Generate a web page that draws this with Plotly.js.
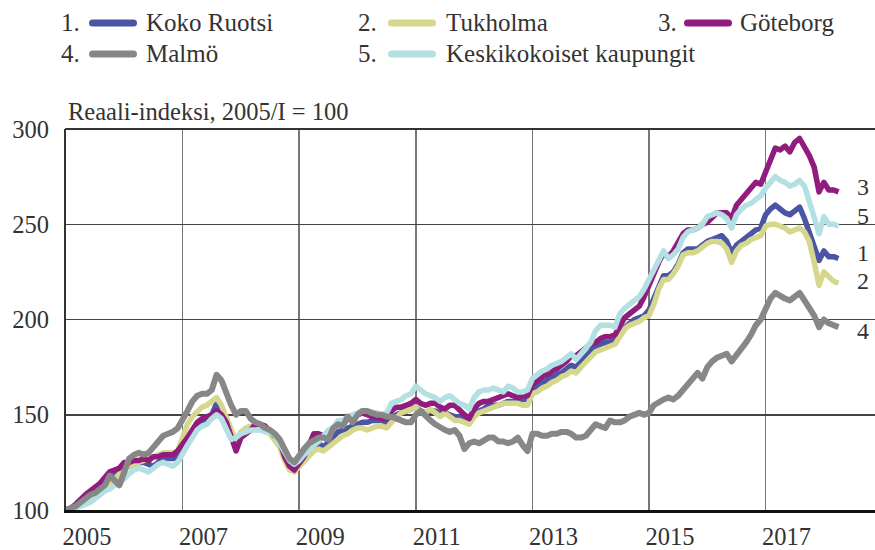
<!DOCTYPE html>
<html><head><meta charset="utf-8">
<script src="https://cdn.plot.ly/plotly-3.0.1.min.js"></script>
<style>
html,body{margin:0;padding:0;background:#fff;}
#chart{width:875px;height:550px;}
.js-line{stroke-linejoin:round !important;}
.shapelayer path{stroke-linecap:round;}
</style></head>
<body><div id="chart"></div>
<script>
// Monthly real price index, 2005/I = 100 (Jan 2005 .. Apr 2018)
const startYear = 2005;
const seriesNames = ['Koko Ruotsi', 'Tukholma', 'Göteborg', 'Malmö', 'Keskikokoiset kaupungit'];
const endLabels = ['1', '2', '3', '4', '5'];
const endLabelY = [235, 220, 269.5, 194, 254.5];

const kokoRuotsi = [
  100,101,102,104,106,108,110,112,114,116,118,120,
  122,123,124,125,125,124,123,125,127,127,127,128,
  131,135,140,144,146,148,150,156,150,146,140,134,
  138,141,143,144,143,142,141,138,134,129,124,122,
  124,128,132,134,135,133,136,139,141,142,143,144,
  145,146,146,147,147,147,146,148,150,151,152,153,
  154,152,151,152,152,151,151,150,149,149,148,147,
  150,152,153,155,155,155,156,157,157,157,158,158,
  163,165,167,168,170,171,172,174,176,175,178,180,
  183,186,187,188,188,189,193,196,198,200,201,202,
  205,211,217,223,223,225,229,235,237,237,237,239,
  241,242,243,244,241,235,239,241,243,245,247,248,
  255,258,260,258,256,255,257,259,253,245,238,231,
  236,233,233,232
];
const tukholma = [
  100,101,102,103,105,107,108,110,112,114,116,119,
  121,123,124,125,126,127,128,129,130,130,130,131,
  138,145,149,152,154,155,157,159,155,148,141,136,
  141,143,144,144,143,142,140,136,133,126,121,120,
  123,126,129,131,132,131,133,135,137,139,140,142,
  143,143,142,143,144,144,143,146,149,151,152,153,
  154,151,151,153,151,149,151,149,147,147,146,145,
  149,151,152,153,154,155,156,156,156,156,155,155,
  161,162,164,165,167,168,170,171,173,172,175,178,
  181,183,184,185,186,187,191,195,197,198,199,201,
  202,208,216,221,221,224,228,234,235,235,236,238,
  240,241,241,240,237,230,236,239,240,242,243,244,
  249,250,250,249,248,246,247,248,246,241,230,218,
  225,222,220,219
];
const goteborg = [
  100,101,103,106,108,110,112,114,117,120,121,122,
  125,125,126,126,127,126,128,128,129,129,129,131,
  134,138,142,146,148,149,150,152,150,146,138,131,
  138,140,142,145,145,144,141,139,136,128,123,121,
  124,128,134,140,140,139,141,143,145,146,148,149,
  150,151,150,149,149,148,148,152,154,154,155,156,
  158,156,155,156,156,154,153,155,155,152,150,148,
  153,156,157,157,158,159,160,161,160,159,160,160,
  166,168,170,171,173,174,176,178,181,181,183,185,
  187,188,190,191,191,192,197,201,203,205,207,212,
  218,225,230,235,233,236,240,245,247,247,248,250,
  251,254,256,256,256,253,260,263,266,268,272,271,
  278,283,290,289,291,288,293,295,291,286,280,267,
  272,268,268,267
];
const malmo = [
  100,101,102,104,106,108,109,111,113,118,115,113,
  120,127,129,130,129,130,133,136,139,140,141,143,
  147,152,157,160,161,161,163,171,168,161,155,150,
  152,152,148,146,145,143,142,140,137,132,127,125,
  129,132,135,137,138,138,137,143,145,144,149,146,
  150,152,152,151,150,150,149,149,148,147,146,146,
  150,152,149,147,145,143,142,141,142,139,132,135,
  136,135,137,138,138,136,136,135,136,138,134,131,
  140,140,139,139,140,140,141,141,140,138,138,139,
  142,145,144,143,147,146,146,147,149,150,151,150,
  151,155,157,158,159,158,160,163,166,169,172,169,
  175,178,180,181,182,178,181,185,188,192,197,200,
  205,211,214,212,211,210,212,214,210,206,202,196,
  200,198,197,196
];
const keskikokoiset = [
  100,100,101,102,103,104,106,108,110,111,113,114,
  117,119,121,122,121,120,122,124,125,124,123,125,
  130,134,138,142,144,145,148,150,148,143,137,138,
  140,141,142,142,142,141,141,139,135,130,126,124,
  126,129,132,134,136,139,142,143,147,147,149,150,
  151,152,152,151,151,150,151,156,157,158,160,161,
  165,163,161,160,159,157,159,160,158,156,155,153,
  159,162,163,163,164,163,162,165,164,162,162,163,
  169,171,173,174,176,177,178,180,182,179,182,184,
  188,194,197,197,197,196,203,206,208,210,212,216,
  221,226,232,236,232,234,237,243,246,247,248,250,
  254,255,256,255,253,248,255,258,260,261,263,265,
  269,272,275,273,272,270,271,273,270,262,254,245,
  254,250,250,249
];
const yearTicks = [2005, 2007, 2009, 2011, 2013, 2015, 2017];
const yTicks = [100, 150, 200, 250, 300];

const allSeries = [kokoRuotsi, tukholma, goteborg, malmo, keskikokoiset];
const colors = ['#4b55a4', '#d5d88c', '#921b7e', '#878787', '#b3e0e2'];
const widths = [5.5, 5.5, 5.5, 6, 5.5];
const drawOrder = [0, 1, 2, 4, 3];

const months = kokoRuotsi.map((_, i) => startYear + i / 12);

const traces = drawOrder.map(k => ({
  type: 'scatter', mode: 'lines', name: seriesNames[k],
  x: months, y: allSeries[k],
  line: {color: colors[k], width: widths[k]},
  hoverinfo: 'skip'
}));

// plot geometry helpers (pixels -> paper)
const L = 66, T = 129, W = 809, H = 381;
const px = v => (v - L) / W;
const py = v => (T + H - v) / H;

const FONT = '"Liberation Serif", "Times New Roman", serif';
const TXT = '#333333';

const shapes = [
  {type:'line', xref:'paper', yref:'paper', x0:0, x1:1, y0:1, y1:1, line:{color:'#333', width:2}}
];
const annotations = [
  {xref:'paper', yref:'paper', x:px(66), y:py(112), xanchor:'left', yanchor:'middle',
   text:'Reaali-indeksi, 2005/I = 100', showarrow:false, font:{family:FONT, size:24.5, color:TXT}}
];

const colNum = [80, 377, 677], colLine = [89, 388, 684], colText = [144, 444, 738];
const rowY = [23, 54];
seriesNames.forEach((nm, k) => {
  const c = [0,1,2,0,1][k], r = [0,0,0,1,1][k];
  const y = py(rowY[r]);
  annotations.push({xref:'paper', yref:'paper', x:px(colNum[c]+2), y:y, xanchor:'right', yanchor:'middle',
    text:(k+1)+'.', showarrow:false, font:{family:FONT, size:25, color:TXT}});
  annotations.push({xref:'paper', yref:'paper', x:px(colText[c]), y:y, xanchor:'left', yanchor:'middle',
    text:nm, showarrow:false, font:{family:FONT, size:25, color:TXT}});
  shapes.push({type:'line', xref:'paper', yref:'paper', x0:px(colLine[c]+3.5), x1:px(colLine[c]+48-3.5),
    y0:y, y1:y, line:{color:colors[k], width:7}});
});
endLabels.forEach((lb, k) => {
  annotations.push({xref:'x', yref:'y', x:2018.67, y:endLabelY[k], xanchor:'center', yanchor:'middle',
    text:lb, showarrow:false, borderpad:0, borderwidth:0,
    font:{family:FONT, size:24, color:TXT}});
});

const layout = {
  width: 875, height: 550,
  margin: {l:L, r:0, t:T, b:550-T-H, pad:0},
  paper_bgcolor:'#ffffff', plot_bgcolor:'#ffffff',
  showlegend:false,
  font:{family:FONT, size:24.5, color:TXT},
  xaxis:{range:[2005, 2005 + W/58.3], tickmode:'array', tickvals:yearTicks, ticktext:yearTicks.map(String),
    showgrid:true, gridcolor:'#777', gridwidth:1.5, showline:true, linecolor:'#111', linewidth:3,
    ticks:'', ticklabelshift:21, ticklabelstandoff:3, zeroline:false, fixedrange:true,
    tickfont:{family:FONT, size:24.5, color:TXT}},
  yaxis:{range:[100,300], tickmode:'array', tickvals:yTicks, ticktext:yTicks.map(String),
    showgrid:true, gridcolor:'#444', gridwidth:1.5, showline:true, linecolor:'#333', linewidth:2,
    ticks:'', ticklabelstandoff:10, ticklabelshift:2.5, zeroline:false, fixedrange:true,
    tickfont:{family:FONT, size:24.5, color:TXT}},
  shapes: shapes,
  annotations: annotations
};

Plotly.newPlot('chart', traces, layout, {staticPlot:true, displayModeBar:false});
</script>
</body></html>
